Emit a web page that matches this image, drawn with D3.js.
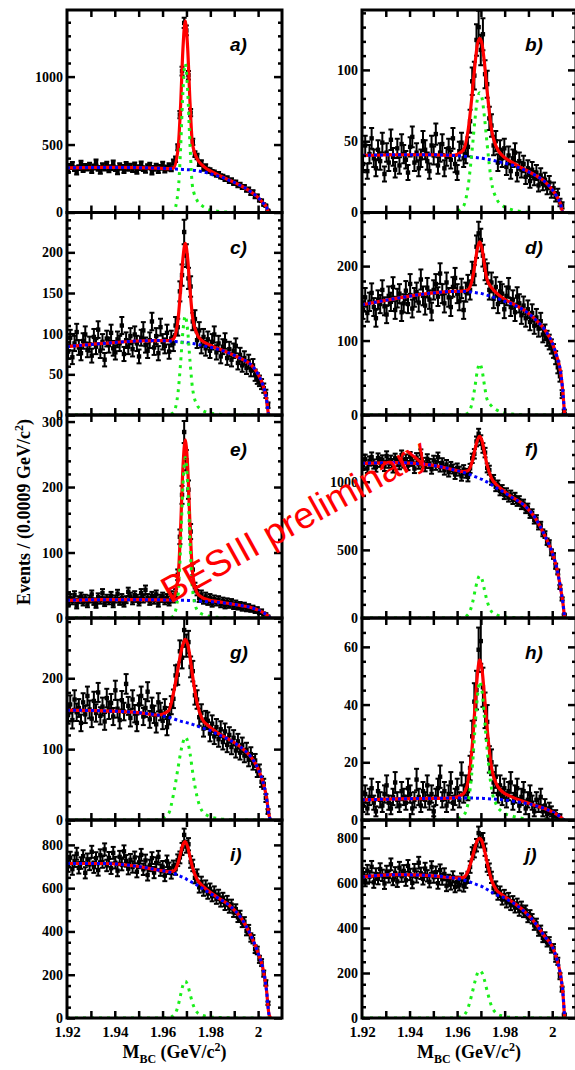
<!DOCTYPE html>
<html>
<head>
<meta charset="utf-8">
<script src="https://cdn.jsdelivr.net/npm/d3@7"></script>
<style>
  body { margin: 0; background: #fff; }
  .tick text { font-family: "Liberation Serif", "DejaVu Serif", serif; font-weight: bold; font-size: 14px; fill: #000; }
</style>
</head>
<body>
<svg id="chart" width="575" height="1070"></svg>
<script>
const fitX = [1.92, 1.935, 1.95, 1.958, 1.9625, 1.9645, 1.9665, 1.9675, 1.9685, 1.9695, 1.9705, 1.9715, 1.9725, 1.9745, 1.9765, 1.979, 1.983, 1.988, 1.993, 1.997, 2.0, 2.002, 2.0035, 2.0045, 2.0052];

// panel a)
const dataA = [308,339,352,323,296,330,361,316,339,328, 348,308,335,370,325,303,344,328,355,314, 330,364,323,298,343,332,308,353,326,341, 316,350,303,330,357,323,310,337,348,296, 325,341,308,332,355,312,328,344,321,370, 392,480,720,1040,1395,1340,1010,735,520,430, 412,362,366,325,336,312,308,296,292,280, 282,266,262,248,250,232,236,218,220,200, 204,186,188,166,170,140,152,116,122,90, 86,58,50,14,0,0,0,0,0,0];
const bgA = [328, 332, 330, 326, 323, 321, 319, 318, 317, 316, 315, 314, 312, 307, 300, 290, 270, 236, 195, 152, 110, 72, 40, 0, 0];
const sigA = [0, 0, 0, 0, 0, 5, 153, 449, 876, 1095, 898, 493, 197, 88, 50, 25, 9, 2, 0, 0, 0, 0, 0, 0, 0];
const fitA = [328, 332, 330, 326, 323, 326, 472, 767, 1193, 1411, 1213, 807, 509, 395, 350, 315, 279, 238, 195, 152, 110, 72, 40, 0, 0];

// panel b)
const dataB = [34,47,29,41,52,38,31,44,36,49, 27,42,35,51,39,30,45,33,48,41, 37,28,46,53,35,42,31,38,50,44, 36,29,47,40,55,33,42,48,31,39, 45,37,52,34,28,43,49,38,41,46, 64,92,96,121,130,114,125,97,90,66, 61,47,50,35,44,38,45,32,40,29, 38,42,27,36,30,34,25,31,22,30, 24,28,19,26,20,23,17,21,14,17, 11,13,7,5,0,0,0,0,0,0];
const bgB = [40, 40.5, 40.5, 40, 39.5, 39.2, 38.8, 38.6, 38.4, 38.2, 38, 37.7, 37.4, 36.8, 36, 35, 33.3, 30, 26, 21.5, 16, 11, 6, 0, 0];
const sigB = [0, 0, 0, 0, 4, 17, 47, 65, 79, 84, 80, 67, 50, 21, 10, 5, 2, 0.5, 0, 0, 0, 0, 0, 0, 0];
const fitB = [40, 40.5, 40.5, 40, 43.5, 56.2, 85.8, 103.6, 117.4, 122.2, 118, 104.7, 87.4, 57.8, 46, 40, 35.3, 30.5, 26, 21.5, 16, 11, 6, 0, 0];

// panel c)
const dataC = [78,95,71,88,102,83,76,91,99,80, 87,73,96,84,105,79,90,68,94,86, 101,82,77,93,88,110,75,92,84,97, 81,99,88,72,95,104,86,79,92,115, 83,97,76,108,90,85,101,78,94,88, 110,108,152,172,225,196,168,158,115,118, 92,104,85,96,82,93,79,90,99,77, 88,72,84,91,70,81,68,79,85,64, 74,61,70,58,66,55,61,49,45,42, 38,33,26,12,0,0,0,0,0,0];
const bgC = [84, 88, 91, 91.5, 91, 90.5, 90, 89.8, 89.5, 89.2, 88.8, 88.4, 88, 87, 85.5, 84, 81, 76, 69, 62, 50, 37, 20, 0, 0];
const sigC = [0, 0, 0, 0, 0.5, 3, 28, 62, 102, 122, 104, 66, 34, 12, 6, 3, 1, 0, 0, 0, 0, 0, 0, 0, 0];
const fitC = [84, 88, 91, 91.5, 91.5, 93.5, 118, 151.8, 191.5, 211.2, 192.8, 154.4, 122, 99, 91.5, 87, 82, 76, 69, 62, 50, 37, 20, 0, 0];

// panel d)
const dataD = [141,158,137,152,164,145,130,155,149,168, 146,135,160,152,172,141,157,163,138,150, 167,149,176,143,158,165,151,182,160,147, 171,155,139,168,176,159,190,163,150,178, 158,145,172,184,163,153,170,141,165,175, 168,192,188,226,244,235,214,195,190,168, 178,156,172,149,166,163,142,160,171,145, 155,138,159,150,134,147,130,142,125,137, 120,131,116,126,108,111,103,98,92,86, 77,64,52,28,5,0,0,0,0,0];
const bgD = [148, 157, 164, 166, 166, 165.5, 165, 164.5, 164, 163.5, 163, 162, 161, 159, 157, 154, 149, 141, 128, 114, 97, 78, 58, 30, 0];
const sigD = [0, 0, 0, 0, 0.3, 2.5, 19, 38, 59, 69, 60, 40, 22, 12, 7, 3.5, 1.2, 0.3, 0, 0, 0, 0, 0, 0, 0];
const fitD = [148, 157, 164, 166, 166.3, 168, 184, 202.5, 223, 232.5, 223, 202, 183, 171, 164, 157.5, 150.2, 141.3, 128, 114, 97, 78, 58, 30, 0];

// panel e)
const dataE = [22,31,26,35,19,28,33,24,30,21, 29,36,25,20,32,27,38,23,30,26, 34,21,29,37,25,31,22,28,40,33, 26,35,30,24,38,29,43,31,25,34, 27,36,22,30,33,26,31,24,35,29, 38,66,124,188,284,241,196,132,74,47, 41,30,36,27,33,25,31,22,29,24, 28,21,26,19,25,20,24,18,22,17, 20,15,19,14,17,13,15,11,13,9, 10,6,5,2,0,0,0,0,0,0];
const bgE = [27, 28, 28, 27.8, 27.5, 27.3, 27.2, 27.1, 27, 27, 26.9, 26.8, 26.6, 26, 25.6, 25, 24, 22, 19, 16, 12, 8.5, 5, 2, 0];
const sigE = [0, 0, 0, 0, 0, 3, 35, 105, 200, 245, 205, 115, 45, 12, 6, 3, 1, 0, 0, 0, 0, 0, 0, 0, 0];
const fitE = [27, 28, 28, 27.8, 27.5, 30.3, 62.2, 132.1, 227, 272, 231.9, 141.8, 71.6, 38, 31.6, 28, 25, 22, 19, 16, 12, 8.5, 5, 2, 0];

// panel f)
const dataF = [1120,1165,1098,1152,1181,1130,1107,1174,1143,1160, 1112,1189,1136,1158,1101,1172,1147,1125,1195,1138, 1166,1119,1184,1150,1097,1176,1129,1203,1142,1110, 1168,1134,1092,1157,1121,1180,1108,1139,1085,1126, 1071,1112,1094,1053,1101,1078,1040,1089,1062,1035, 1098,1172,1205,1296,1352,1305,1248,1214,1102,1085, 1010,1018,962,978,931,945,903,922,884,905, 866,889,852,865,828,840,798,811,762,770, 720,728,676,680,625,612,560,548,482,455, 380,338,228,140,25,0,0,0,0,0];
const bgF = [1135, 1140, 1120, 1090, 1070, 1058, 1045, 1038, 1031, 1024, 1017, 1008, 999, 978, 955, 930, 885, 830, 730, 600, 480, 360, 220, 110, 0];
const sigF = [0, 0, 0, 0, 5, 23, 113, 197, 272, 310, 282, 207, 132, 47, 24, 11, 4, 1, 0, 0, 0, 0, 0, 0, 0];
const fitF = [1135, 1140, 1120, 1090, 1075, 1081, 1158, 1235, 1303, 1334, 1299, 1215, 1131, 1025, 979, 941, 889, 831, 730, 600, 480, 360, 220, 110, 0];

// panel g)
const dataG = [148,163,141,170,152,158,137,166,149,175, 156,143,168,151,180,147,160,139,172,155, 165,146,183,157,141,169,153,192,161,144, 170,150,137,163,175,146,158,181,142,160, 149,135,166,153,140,158,131,147,162,171, 204,205,238,229,268,246,251,216,210,176, 170,145,151,129,142,140,122,136,118,131, 114,128,110,125,106,120,103,116,98,111, 95,106,91,99,85,93,80,84,69,70, 54,51,31,12,0,0,0,0,0,0];
const bgG = [155, 154, 151.5, 148, 145, 143, 140.5, 139.5, 138.5, 138, 137, 136, 135, 132.5, 130, 127.5, 121, 113, 102, 89, 72, 54, 32, 8, 0];
const sigG = [0, 0, 0, 0, 9, 35, 74, 94, 109, 117, 111, 94, 70, 32, 13, 6, 2, 0.5, 0, 0, 0, 0, 0, 0, 0];
const fitG = [155, 154, 151.5, 148, 154, 178, 214.5, 233.5, 247.5, 255, 248, 230, 205, 164.5, 143, 133.5, 123, 113.5, 102, 89, 72, 54, 32, 8, 0];

// panel h)
const dataH = [5,9,4,8,11,6,3,10,7,5, 9,12,6,4,8,13,7,5,10,8, 6,11,9,4,7,14,8,5,10,7, 12,6,9,3,8,11,15,7,10,5, 9,13,6,8,11,7,16,9,12,10, 18,29,41,45,59,62,46,38,34,21, 20,13,15,9,12,8,11,7,10,13, 6,9,11,5,8,10,4,7,9,6, 3,7,5,8,3,5,2,4,3,1, 2,1,1,0,0,0,0,0,0,0];
const bgH = [7.0, 7.3, 7.5, 7.6, 7.6, 7.6, 7.6, 7.55, 7.55, 7.5, 7.5, 7.45, 7.4, 7.3, 7.2, 7.0, 6.6, 5.9, 5.0, 3.9, 2.8, 1.9, 1.0, 0.3, 0];
const sigH = [0, 0, 0, 0, 1.4, 5.4, 19.4, 31.4, 42.4, 48, 44.5, 35.5, 25.6, 10.7, 5.3, 2.8, 1.4, 0.5, 0, 0, 0, 0, 0, 0, 0];
const fitH = [7.0, 7.3, 7.5, 7.6, 9, 13, 27, 39, 50, 55.5, 52, 43, 33, 18, 12.5, 9.8, 8, 6.4, 5.0, 3.9, 2.8, 1.9, 1.0, 0.3, 0];

// panel i)
const dataI = [702,741,688,725,759,694,716,748,671,733, 710,768,697,739,684,752,721,779,705,740, 692,763,718,681,745,709,770,726,690,731, 698,742,676,719,754,687,728,661,705,739, 672,716,745,683,699,658,724,692,670,701, 688,729,742,781,846,792,803,721,705,648, 661,604,628,589,611,575,597,563,584,551, 569,538,555,522,541,509,524,489,503,465, 474,441,445,402,410,372,364,318,312,271, 256,205,162,68,0,0,0,0,0,0];
const bgI = [714, 714, 700, 684, 675, 669, 660, 655, 650, 645, 638, 632, 626, 614, 600, 582, 555, 520, 460, 380, 300, 230, 130, 20, 0];
const sigI = [0, 0, 0, 0, 2, 10, 56, 104, 150, 170, 153, 112, 71, 26, 13, 7, 2.5, 1, 0, 0, 0, 0, 0, 0, 0];
const fitI = [714, 714, 700, 684, 677, 679, 716, 759, 800, 815, 791, 744, 697, 640, 613, 589, 557.5, 521, 460, 380, 300, 230, 130, 20, 0];

// panel j)
const dataJ = [641,610,655,628,672,603,640,619,662,634, 598,651,627,683,615,645,607,668,630,654, 612,676,638,601,659,627,690,643,618,664, 632,605,671,626,648,599,657,617,640,588, 612,595,627,583,604,591,618,586,603,625, 671,732,741,768,822,786,794,748,676,661, 625,578,583,549,561,527,546,514,533,502, 519,491,508,476,495,470,478,447,458,441, 412,421,385,391,356,362,336,341,308,311, 266,252,186,128,15,0,0,0,0,0];
const bgJ = [627, 637, 632, 623, 614, 608, 600, 596, 592, 588, 584, 578, 572, 560, 548, 538, 515, 476, 420, 360, 318, 260, 190, 110, 0];
const sigJ = [0, 0, 0, 0, 10, 42, 118, 162, 197, 210, 200, 168, 126, 52, 21, 9, 3, 1, 0, 0, 0, 0, 0, 0, 0];
const fitJ = [627, 637, 632, 623, 624, 650, 718, 758, 789, 798, 784, 746, 698, 612, 569, 547, 518, 477, 420, 360, 318, 260, 190, 110, 0];

// axis settings
const panelLabels = ["a)", "b)", "c)", "d)", "e)", "f)", "g)", "h)", "i)", "j)"];
const yMaxes = [1490, 142, 249, 272, 310, 1490, 285, 70, 915, 880];
const yTickSteps = [500, 50, 50, 100, 100, 500, 100, 20, 200, 200];
const yMinorSteps = [100, 10, 10, 20, 20, 100, 20, 5, 50, 50];
const xTicks = [1.92, 1.94, 1.96, 1.98, 2.0];
const xTickLabels = ["1.92", "1.94", "1.96", "1.98", "2"];
const binWidth = 0.0009;
const xDomain = [1.92, 2.01];

const allData = [dataA, dataB, dataC, dataD, dataE, dataF, dataG, dataH, dataI, dataJ];
const allBg = [bgA, bgB, bgC, bgD, bgE, bgF, bgG, bgH, bgI, bgJ];
const allSig = [sigA, sigB, sigC, sigD, sigE, sigF, sigG, sigH, sigI, sigJ];
const allFit = [fitA, fitB, fitC, fitD, fitE, fitF, fitG, fitH, fitI, fitJ];

// layout
const colX = [[67, 282], [362, 576]];
const rowY = [10, 212.5, 415, 618, 820, 1018];
const serif = '"Liberation Serif", "DejaVu Serif", serif';

var svg = d3.select("#chart");

function drawPanel(k) {
    let col = k % 2, row = Math.floor(k / 2);
    let x0 = colX[col][0], x1 = colX[col][1];
    let top = rowY[row], bottom = rowY[row + 1];

    let x = d3.scaleLinear().domain(xDomain).range([x0, x1]);
    let y = d3.scaleLinear().domain([0, yMaxes[k]]).range([bottom, top]);

    let g = svg.append("g");

    svg.append("clipPath").attr("id", "clip" + k)
        .append("rect")
        .attr("x", x0).attr("y", top)
        .attr("width", x1 - x0).attr("height", bottom - top);

    let plot = g.append("g").attr("clip-path", "url(#clip" + k + ")");

    // data points with poisson error bars
    let pts = allData[k].map((n, i) => ({ m: xDomain[0] + binWidth * (i + 0.5), n: n }))
        .filter(d => d.n > 0);
    let lo = d => y(d.n - Math.sqrt(d.n)), hi = d => y(d.n + Math.sqrt(d.n));

    let pg = plot.selectAll(".pt").data(pts).enter().append("g").attr("class", "pt")
        .attr("stroke", "#000").attr("stroke-width", 2);
    pg.append("line")
        .attr("x1", d => x(d.m)).attr("x2", d => x(d.m))
        .attr("y1", lo).attr("y2", hi);
    pg.append("line")
        .attr("x1", d => x(d.m) - 2.5).attr("x2", d => x(d.m) + 2.5)
        .attr("y1", hi).attr("y2", hi);
    pg.append("line")
        .attr("x1", d => x(d.m) - 2.5).attr("x2", d => x(d.m) + 2.5)
        .attr("y1", lo).attr("y2", lo);
    pg.append("rect")
        .attr("x", d => x(d.m) - 2.2).attr("y", d => y(d.n) - 2.2)
        .attr("width", 4.4).attr("height", 4.4)
        .attr("stroke", "none").attr("fill", "#000");

    // fit curves
    let line = d3.line()
        .x((d, i) => x(fitX[i]))
        .y(d => y(d))
        .curve(d3.curveMonotoneX);

    plot.append("path").datum(allFit[k])
        .attr("d", line)
        .attr("fill", "none").attr("stroke", "#ff0000").attr("stroke-width", 3.2);
    plot.append("path").datum(allBg[k])
        .attr("d", line)
        .attr("fill", "none").attr("stroke", "#0000ff").attr("stroke-width", 3)
        .attr("stroke-dasharray", "3,3");
    plot.append("path").datum(allSig[k])
        .attr("d", line)
        .attr("fill", "none").attr("stroke", "#1aef1a").attr("stroke-width", 3)
        .attr("stroke-dasharray", "3,5");

    // y axis: major ticks with labels, minor ticks, mirrored on the right
    let majors = d3.range(0, yMaxes[k], yTickSteps[k]);
    let minors = d3.range(0, yMaxes[k], yMinorSteps[k]).filter(v => majors.indexOf(v) < 0);

    g.append("g").attr("transform", "translate(" + x0 + ",0)")
        .call(d3.axisLeft(y).tickValues(majors).tickSize(-8).tickPadding(4).tickFormat(d3.format("d")));
    g.append("g").attr("transform", "translate(" + x0 + ",0)")
        .call(d3.axisLeft(y).tickValues(minors).tickSize(-4).tickFormat(""));
    g.append("g").attr("transform", "translate(" + x1 + ",0)")
        .call(d3.axisRight(y).tickValues(majors).tickSize(-8).tickFormat(""));
    g.append("g").attr("transform", "translate(" + x1 + ",0)")
        .call(d3.axisRight(y).tickValues(minors).tickSize(-4).tickFormat(""));

    // x ticks every 0.01 on top and bottom
    let xMajors = d3.range(1.93, 2.005, 0.01);
    g.append("g").attr("transform", "translate(0," + bottom + ")")
        .call(d3.axisBottom(x).tickValues(xMajors).tickSize(-7).tickFormat(""));
    g.append("g").attr("transform", "translate(0," + top + ")")
        .call(d3.axisTop(x).tickValues(xMajors).tickSize(-7).tickFormat(""));

    if (row === 4) {
        g.append("g").attr("transform", "translate(0," + bottom + ")")
            .call(d3.axisBottom(x).tickValues(xTicks).tickSize(0).tickPadding(8)
                .tickFormat((d, i) => xTickLabels[i]))
            .selectAll("text").style("font-size", "15px");
    }

    g.selectAll(".domain").remove();
    g.selectAll(".tick line").attr("stroke", "#000").attr("stroke-width", 2.5);

    // frame
    g.append("rect")
        .attr("x", x0).attr("y", top)
        .attr("width", x1 - x0).attr("height", bottom - top)
        .attr("fill", "none").attr("stroke", "#000").attr("stroke-width", 3);

    // panel label
    g.append("text")
        .attr("x", x0 + 163).attr("y", top + 41)
        .attr("font-family", '"Liberation Sans", Arial, sans-serif')
        .attr("font-weight", "bold").attr("font-style", "italic")
        .attr("font-size", 19)
        .text(panelLabels[k]);

    // x title below the bottom row
    if (row === 4) {
        let t = svg.append("text")
            .attr("x", (x0 + x1) / 2).attr("y", 1058)
            .attr("text-anchor", "middle")
            .attr("font-family", serif).attr("font-weight", "bold").attr("font-size", 18);
        t.append("tspan").text("M");
        t.append("tspan").attr("dy", 5).attr("font-size", 12).text("BC");
        t.append("tspan").attr("dy", -5).text(" (GeV/c");
        t.append("tspan").attr("dy", -7).attr("font-size", 12).text("2");
        t.append("tspan").attr("dy", 7).text(")");
    }
}

for (let k = 0; k < 10; k++) {
    drawPanel(k);
}

// y title
let yt = svg.append("text")
    .attr("transform", "translate(30,512) rotate(-90)")
    .attr("text-anchor", "middle")
    .attr("font-family", serif).attr("font-weight", "bold").attr("font-size", 18);
yt.append("tspan").text("Events / (0.0009 GeV/c");
yt.append("tspan").attr("dy", -7).attr("font-size", 12).text("2");
yt.append("tspan").attr("dy", 7).text(")");

// watermark
svg.append("text")
    .attr("transform", "translate(170,604) rotate(-29)")
    .attr("font-family", '"Liberation Sans", Arial, sans-serif')
    .attr("font-size", 37)
    .attr("fill", "#ff0000")
    .attr("textLength", 298)
    .attr("lengthAdjust", "spacingAndGlyphs")
    .text("BESIII preliminary");
</script>
</body>
</html>
